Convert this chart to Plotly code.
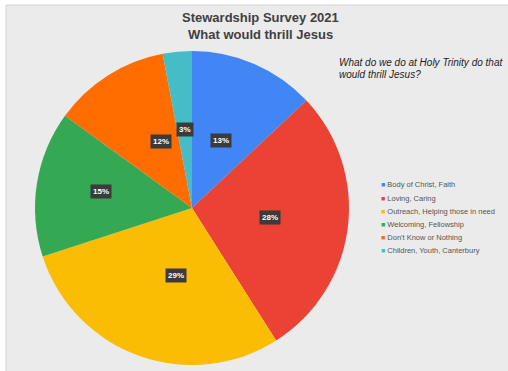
import math
import plotly.graph_objects as go

# ---- data ----
categories = ["Body of Christ, Faith", "Loving, Caring", "Outreach, Helping those in need",
              "Welcoming, Fellowship", "Don't Know or Nothing", "Children, Youth, Canterbury"]
values = [13, 28, 29, 15, 12, 3]
colors = ["#4285F4", "#EA4335", "#FBBC04", "#34A853", "#FF6D01", "#46BDC6"]

title_lines = ["Stewardship Survey 2021", "What would thrill Jesus"]
subtitle_lines = ["What do we do at Holy Trinity do that", "would thrill Jesus?"]

# ---- layout constants (pixels) ----
W, H = 508, 371
CX, CY, R = 192, 208, 157
label_r = [0.47, 0.5, 0.51, 0.66, 0.5, 0.5]
FONT = "Arial, Liberation Sans, sans-serif"

fig = go.Figure()
fig.add_trace(go.Pie(
    labels=categories, values=values, sort=False, direction="clockwise", rotation=0,
    marker=dict(colors=colors, line=dict(width=0)),
    textinfo="none", hoverinfo="label+percent", showlegend=False,
    domain=dict(x=[(CX - R) / W, (CX + R) / W], y=[1 - (CY + R) / H, 1 - (CY - R) / H]),
))

annotations = []
total = sum(values)
cum = 0
for i, v in enumerate(values):
    mid = (cum + v / 2) / total * 2 * math.pi
    cum += v
    px = CX + label_r[i] * R * math.sin(mid)
    py = CY - label_r[i] * R * math.cos(mid)
    annotations.append(dict(
        x=px / W, y=1 - py / H, xref="paper", yref="paper", showarrow=False,
        text=f"<b>{round(v / total * 100)}%</b>",
        font=dict(family=FONT, size=8, color="white"),
        bgcolor="#3b3b3b", borderpad=2,
    ))

# legend drawn as text rows
LX, LY0, LDY = 379, 185, 13.0
for i, (c, col) in enumerate(zip(categories, colors)):
    annotations.append(dict(
        x=LX / W, y=1 - (LY0 + i * LDY) / H, xref="paper", yref="paper",
        xanchor="left", yanchor="middle", showarrow=False,
        text=f"<span style='color:{col}; font-size:7px'>■</span> {c}",
        font=dict(family=FONT, size=7.5, color="#555555"),
    ))

# title
for j, t in enumerate(title_lines):
    annotations.append(dict(
        x=260 / W, y=1 - (17 + j * 18) / H, xref="paper", yref="paper",
        xanchor="center", yanchor="middle", showarrow=False,
        text=f"<b>{t}</b>", font=dict(family=FONT, size=13, color="#404040"),
    ))

# subtitle
for j, t in enumerate(subtitle_lines):
    annotations.append(dict(
        x=337 / W, y=1 - (63 + j * 12) / H, xref="paper", yref="paper",
        xanchor="left", yanchor="middle", showarrow=False,
        text=f"<i>{t}</i>", font=dict(family=FONT, size=10, color="#222222"),
    ))

fig.update_layout(
    width=W, height=H, margin=dict(l=0, r=0, t=0, b=0),
    paper_bgcolor="white", plot_bgcolor="white",
    annotations=annotations,
    shapes=[dict(type="rect", xref="paper", yref="paper",
                 x0=6 / W, x1=1.01, y0=-0.01, y1=1 - 5 / H,
                 fillcolor="#ebebeb", line=dict(color="#d4d4d4", width=1), layer="below")],
)

fig.write_html("out.html")
